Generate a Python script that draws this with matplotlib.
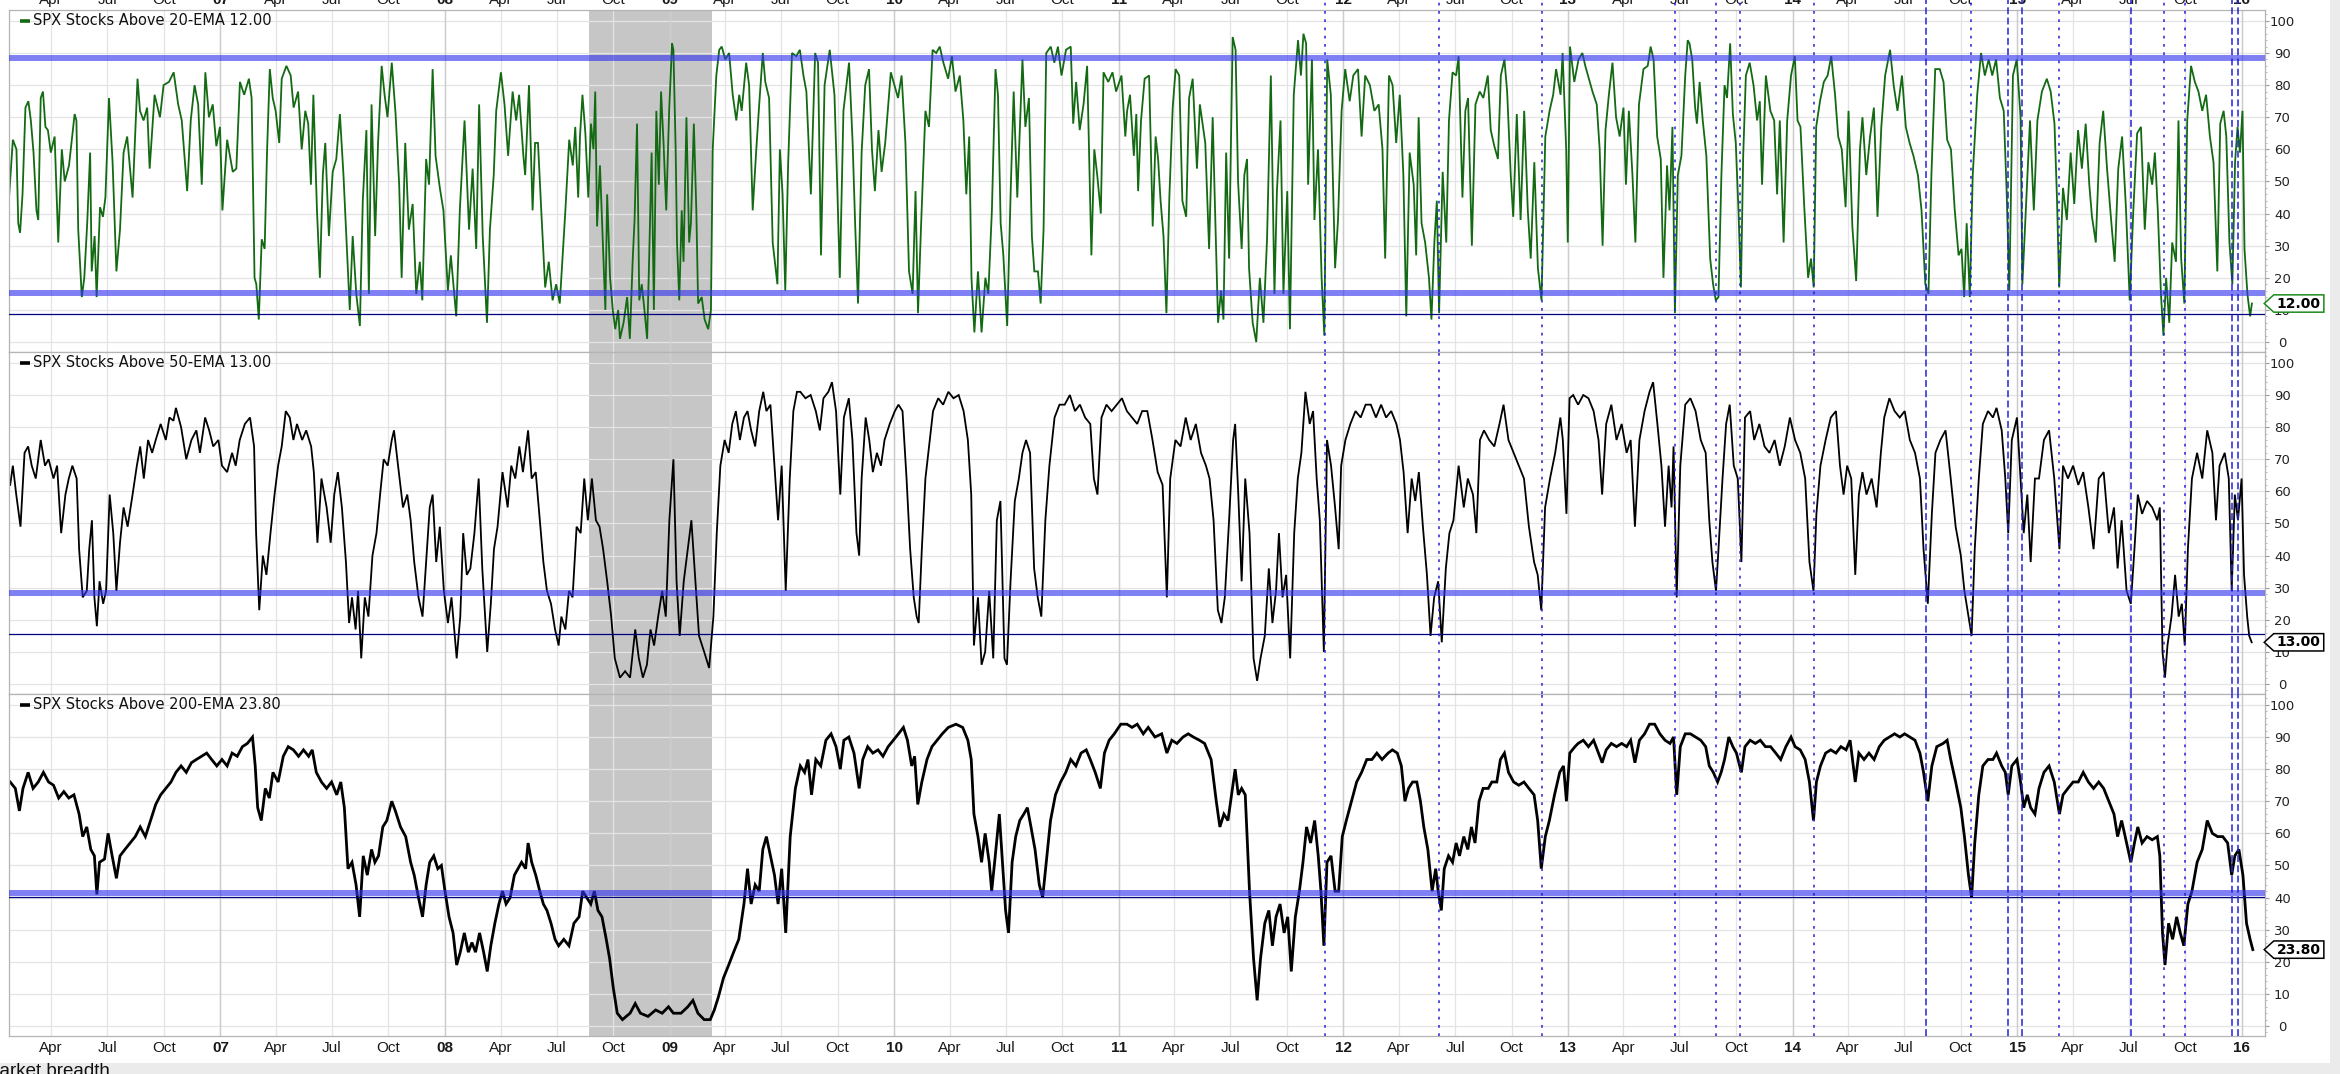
import datetime as dt
import matplotlib
matplotlib.use("Agg")
import matplotlib.pyplot as plt
from matplotlib.path import Path
from matplotlib.patches import Rectangle
from matplotlib.ticker import FixedLocator, MultipleLocator
import matplotlib.transforms as mtransforms

# ---------------- data (decimal year, percent) ----------------
series_names = ["SPX Stocks Above 20-EMA", "SPX Stocks Above 50-EMA", "SPX Stocks Above 200-EMA"]
last_values = [12.00, 13.00, 23.80]

ema20 = [
    (2006.055, 41), (2006.076, 63), (2006.092, 60), (2006.100, 37), (2006.108, 34), (2006.119, 46), (2006.132, 73),
    (2006.145, 75), (2006.156, 69), (2006.168, 59), (2006.181, 41), (2006.189, 38), (2006.200, 76), (2006.210, 78),
    (2006.221, 67), (2006.232, 66), (2006.245, 59), (2006.262, 64), (2006.278, 31), (2006.294, 60), (2006.307, 50),
    (2006.326, 55), (2006.351, 71), (2006.359, 69), (2006.367, 35), (2006.383, 14), (2006.394, 20), (2006.407, 37),
    (2006.420, 59), (2006.427, 22), (2006.440, 33), (2006.449, 14), (2006.464, 42), (2006.477, 39), (2006.488, 45),
    (2006.504, 76), (2006.520, 56), (2006.537, 22), (2006.553, 35), (2006.569, 59), (2006.585, 64), (2006.609, 45),
    (2006.631, 82), (2006.642, 72), (2006.658, 69), (2006.674, 73), (2006.685, 54), (2006.707, 77), (2006.731, 70),
    (2006.747, 80), (2006.771, 81), (2006.792, 84), (2006.812, 74), (2006.828, 69), (2006.852, 47), (2006.868, 69),
    (2006.885, 80), (2006.901, 74), (2006.917, 49), (2006.933, 84), (2006.949, 70), (2006.966, 74), (2006.982, 61),
    (2006.998, 67), (2007.009, 41), (2007.030, 63), (2007.055, 53), (2007.071, 54), (2007.087, 81), (2007.106, 77),
    (2007.127, 82), (2007.139, 76), (2007.152, 20), (2007.160, 18), (2007.171, 7), (2007.184, 32), (2007.197, 29),
    (2007.208, 60), (2007.220, 85), (2007.233, 76), (2007.246, 72), (2007.262, 62), (2007.273, 82), (2007.294, 86),
    (2007.313, 83), (2007.326, 73), (2007.346, 78), (2007.362, 60), (2007.378, 72), (2007.391, 68), (2007.403, 49),
    (2007.414, 77), (2007.430, 41), (2007.443, 20), (2007.456, 52), (2007.467, 62), (2007.483, 33), (2007.500, 53),
    (2007.516, 57), (2007.532, 71), (2007.548, 52), (2007.564, 28), (2007.576, 10), (2007.589, 33), (2007.605, 15),
    (2007.621, 5), (2007.634, 44), (2007.650, 66), (2007.661, 15), (2007.673, 74), (2007.689, 33), (2007.702, 62),
    (2007.718, 86), (2007.731, 77), (2007.744, 70), (2007.763, 87), (2007.780, 71), (2007.796, 49), (2007.807, 20),
    (2007.823, 62), (2007.839, 35), (2007.856, 43), (2007.872, 15), (2007.888, 25), (2007.899, 13), (2007.916, 57),
    (2007.929, 49), (2007.945, 85), (2007.958, 58), (2007.977, 48), (2007.993, 41), (2008.013, 16), (2008.026, 27),
    (2008.050, 8), (2008.066, 41), (2008.087, 69), (2008.107, 35), (2008.123, 54), (2008.139, 29), (2008.152, 74),
    (2008.168, 33), (2008.187, 6), (2008.200, 35), (2008.217, 52), (2008.228, 72), (2008.249, 84), (2008.265, 74),
    (2008.281, 58), (2008.301, 78), (2008.317, 69), (2008.330, 77), (2008.349, 58), (2008.357, 52), (2008.374, 80),
    (2008.390, 41), (2008.401, 62), (2008.414, 62), (2008.430, 39), (2008.446, 17), (2008.462, 25), (2008.479, 13),
    (2008.495, 18), (2008.511, 12), (2008.536, 41), (2008.553, 63), (2008.569, 55), (2008.580, 67), (2008.593, 45),
    (2008.601, 64), (2008.612, 77), (2008.625, 65), (2008.638, 45), (2008.650, 68), (2008.661, 60), (2008.669, 78),
    (2008.677, 36), (2008.690, 55), (2008.703, 31), (2008.714, 10), (2008.722, 46), (2008.735, 20), (2008.747, 10),
    (2008.758, 4), (2008.771, 10), (2008.779, 1), (2008.795, 6), (2008.811, 14), (2008.823, 1), (2008.836, 26),
    (2008.844, 38), (2008.855, 68), (2008.865, 13), (2008.876, 18), (2008.888, 10), (2008.900, 1), (2008.909, 26),
    (2008.920, 59), (2008.930, 10), (2008.941, 72), (2008.952, 49), (2008.962, 78), (2008.973, 62), (2008.985, 41),
    (2008.998, 72), (2009.011, 93), (2009.017, 91), (2009.027, 60), (2009.033, 31), (2009.043, 13), (2009.054, 41),
    (2009.062, 25), (2009.075, 70), (2009.087, 31), (2009.095, 37), (2009.108, 68), (2009.119, 41), (2009.127, 12),
    (2009.143, 14), (2009.156, 7), (2009.172, 4), (2009.184, 10), (2009.192, 60), (2009.208, 83), (2009.221, 91),
    (2009.232, 92), (2009.248, 88), (2009.265, 90), (2009.281, 77), (2009.297, 69), (2009.310, 77), (2009.321, 72),
    (2009.341, 87), (2009.354, 80), (2009.370, 41), (2009.386, 60), (2009.399, 74), (2009.415, 90), (2009.426, 81),
    (2009.443, 76), (2009.459, 31), (2009.480, 18), (2009.491, 60), (2009.503, 46), (2009.515, 16), (2009.528, 56),
    (2009.545, 90), (2009.564, 89), (2009.580, 91), (2009.596, 83), (2009.609, 78), (2009.629, 46), (2009.648, 90),
    (2009.661, 87), (2009.674, 27), (2009.690, 80), (2009.713, 91), (2009.734, 77), (2009.745, 52), (2009.758, 20),
    (2009.774, 72), (2009.799, 87), (2009.815, 62), (2009.826, 37), (2009.839, 12), (2009.855, 59), (2009.871, 80),
    (2009.888, 85), (2009.901, 60), (2009.914, 47), (2009.930, 66), (2009.944, 53), (2009.960, 62), (2009.985, 84),
    (2010.001, 80), (2010.017, 76), (2010.033, 83), (2010.050, 62), (2010.066, 22), (2010.082, 15), (2010.095, 47),
    (2010.106, 9), (2010.119, 35), (2010.139, 72), (2010.155, 67), (2010.171, 91), (2010.187, 90), (2010.203, 92),
    (2010.219, 87), (2010.240, 82), (2010.257, 89), (2010.273, 78), (2010.292, 83), (2010.308, 69), (2010.321, 46),
    (2010.334, 64), (2010.344, 20), (2010.357, 3), (2010.373, 22), (2010.389, 3), (2010.406, 20), (2010.419, 15),
    (2010.435, 41), (2010.451, 85), (2010.462, 77), (2010.474, 37), (2010.486, 27), (2010.503, 5), (2010.519, 48),
    (2010.532, 78), (2010.548, 45), (2010.559, 66), (2010.571, 88), (2010.584, 67), (2010.600, 76), (2010.613, 33),
    (2010.624, 22), (2010.640, 22), (2010.652, 12), (2010.665, 35), (2010.677, 90), (2010.697, 92), (2010.713, 87),
    (2010.729, 92), (2010.745, 83), (2010.765, 91), (2010.786, 92), (2010.797, 68), (2010.810, 81), (2010.826, 66),
    (2010.843, 74), (2010.859, 86), (2010.878, 27), (2010.891, 60), (2010.904, 52), (2010.920, 40), (2010.932, 84),
    (2010.953, 81), (2010.972, 84), (2010.988, 78), (2011.012, 83), (2011.029, 64), (2011.037, 72), (2011.050, 77),
    (2011.067, 58), (2011.078, 71), (2011.086, 47), (2011.099, 69), (2011.115, 82), (2011.135, 83), (2011.151, 36),
    (2011.164, 64), (2011.175, 57), (2011.186, 44), (2011.199, 33), (2011.212, 9), (2011.225, 45), (2011.240, 73),
    (2011.253, 85), (2011.269, 83), (2011.283, 44), (2011.300, 39), (2011.313, 76), (2011.329, 82), (2011.348, 54),
    (2011.361, 74), (2011.385, 62), (2011.402, 29), (2011.418, 70), (2011.429, 40), (2011.442, 6), (2011.455, 16),
    (2011.466, 7), (2011.478, 59), (2011.491, 26), (2011.507, 95), (2011.520, 91), (2011.531, 50), (2011.547, 29),
    (2011.559, 52), (2011.571, 57), (2011.580, 23), (2011.596, 6), (2011.612, 0), (2011.628, 20), (2011.644, 6),
    (2011.660, 32), (2011.677, 83), (2011.693, 15), (2011.704, 47), (2011.720, 69), (2011.733, 15), (2011.750, 47),
    (2011.762, 4), (2011.779, 77), (2011.798, 94), (2011.811, 83), (2011.822, 96), (2011.834, 93), (2011.843, 49),
    (2011.860, 88), (2011.871, 38), (2011.887, 60), (2011.903, 20), (2011.915, 2), (2011.928, 88), (2011.944, 77),
    (2011.963, 23), (2011.976, 38), (2011.992, 72), (2012.008, 85), (2012.028, 75), (2012.044, 83), (2012.065, 85),
    (2012.081, 64), (2012.097, 83), (2012.118, 80), (2012.138, 72), (2012.157, 74), (2012.174, 60), (2012.186, 26),
    (2012.203, 83), (2012.219, 80), (2012.235, 62), (2012.251, 77), (2012.267, 52), (2012.280, 8), (2012.295, 59),
    (2012.313, 49), (2012.324, 27), (2012.335, 70), (2012.348, 37), (2012.364, 31), (2012.381, 20), (2012.392, 7),
    (2012.405, 31), (2012.416, 44), (2012.426, 9), (2012.442, 53), (2012.458, 31), (2012.470, 69), (2012.486, 84),
    (2012.502, 83), (2012.513, 89), (2012.530, 45), (2012.543, 72), (2012.555, 76), (2012.572, 30), (2012.588, 74),
    (2012.607, 78), (2012.623, 76), (2012.643, 83), (2012.656, 66), (2012.672, 61), (2012.688, 57), (2012.701, 83),
    (2012.717, 88), (2012.729, 78), (2012.745, 52), (2012.756, 39), (2012.772, 71), (2012.789, 38), (2012.805, 72),
    (2012.821, 41), (2012.834, 26), (2012.850, 56), (2012.866, 23), (2012.882, 13), (2012.899, 64), (2012.918, 72),
    (2012.934, 77), (2012.947, 85), (2012.967, 77), (2012.976, 90), (2012.992, 60), (2012.999, 31), (2013.009, 92),
    (2013.028, 81), (2013.047, 88), (2013.064, 90), (2013.077, 86), (2013.093, 82), (2013.109, 78), (2013.128, 74),
    (2013.141, 60), (2013.154, 30), (2013.167, 66), (2013.182, 77), (2013.198, 87), (2013.214, 70), (2013.230, 64),
    (2013.247, 73), (2013.258, 49), (2013.271, 72), (2013.287, 52), (2013.300, 31), (2013.316, 74), (2013.336, 85),
    (2013.355, 86), (2013.368, 92), (2013.381, 88), (2013.397, 64), (2013.413, 57), (2013.425, 20), (2013.441, 55),
    (2013.452, 41), (2013.465, 67), (2013.476, 9), (2013.489, 52), (2013.505, 58), (2013.522, 83), (2013.533, 94),
    (2013.541, 93), (2013.553, 88), (2013.566, 73), (2013.574, 68), (2013.586, 81), (2013.600, 69), (2013.616, 58),
    (2013.633, 26), (2013.646, 18), (2013.658, 13), (2013.670, 14), (2013.683, 52), (2013.697, 80), (2013.708, 76),
    (2013.722, 93), (2013.734, 71), (2013.747, 62), (2013.759, 41), (2013.770, 17), (2013.780, 58), (2013.792, 83),
    (2013.809, 87), (2013.826, 80), (2013.842, 69), (2013.854, 75), (2013.864, 49), (2013.881, 83), (2013.901, 72),
    (2013.918, 69), (2013.931, 46), (2013.943, 69), (2013.960, 31), (2013.976, 69), (2013.993, 83), (2014.010, 89),
    (2014.022, 69), (2014.035, 67), (2014.052, 42), (2014.069, 20), (2014.082, 26), (2014.094, 17), (2014.105, 67),
    (2014.122, 75), (2014.139, 81), (2014.156, 83), (2014.172, 89), (2014.189, 77), (2014.203, 64), (2014.219, 60),
    (2014.236, 42), (2014.249, 72), (2014.266, 36), (2014.283, 19), (2014.300, 60), (2014.311, 70), (2014.328, 52),
    (2014.345, 64), (2014.362, 73), (2014.378, 39), (2014.395, 67), (2014.412, 83), (2014.434, 91), (2014.450, 80),
    (2014.467, 72), (2014.487, 83), (2014.504, 67), (2014.521, 62), (2014.538, 58), (2014.558, 52), (2014.574, 41),
    (2014.591, 18), (2014.605, 15), (2014.618, 52), (2014.635, 85), (2014.655, 85), (2014.672, 81), (2014.688, 63),
    (2014.705, 60), (2014.722, 41), (2014.739, 27), (2014.752, 29), (2014.764, 14), (2014.775, 37), (2014.789, 14),
    (2014.802, 52), (2014.822, 77), (2014.839, 90), (2014.856, 83), (2014.873, 88), (2014.889, 83), (2014.906, 88),
    (2014.923, 76), (2014.940, 72), (2014.953, 47), (2014.965, 16), (2014.981, 83), (2014.998, 88), (2015.015, 70),
    (2015.023, 18), (2015.037, 39), (2015.057, 69), (2015.074, 41), (2015.090, 69), (2015.110, 78), (2015.132, 82),
    (2015.149, 78), (2015.166, 68), (2015.177, 45), (2015.187, 17), (2015.204, 48), (2015.221, 38), (2015.238, 59),
    (2015.254, 43), (2015.271, 66), (2015.288, 54), (2015.305, 68), (2015.321, 49), (2015.333, 39), (2015.350, 31),
    (2015.367, 62), (2015.383, 72), (2015.400, 54), (2015.417, 39), (2015.434, 25), (2015.450, 54), (2015.467, 64),
    (2015.484, 42), (2015.501, 13), (2015.517, 41), (2015.534, 65), (2015.551, 67), (2015.568, 35), (2015.584, 56),
    (2015.601, 49), (2015.613, 59), (2015.626, 41), (2015.640, 15), (2015.651, 2), (2015.663, 20), (2015.677, 6),
    (2015.690, 31), (2015.707, 25), (2015.718, 69), (2015.730, 26), (2015.744, 12), (2015.757, 69), (2015.774, 86),
    (2015.791, 81), (2015.807, 78), (2015.824, 72), (2015.841, 77), (2015.858, 64), (2015.874, 56), (2015.891, 22),
    (2015.904, 68), (2015.919, 72), (2015.931, 64), (2015.945, 31), (2015.958, 18), (2015.970, 56), (2015.981, 67),
    (2015.992, 59), (2016.003, 72), (2016.012, 29), (2016.025, 15), (2016.037, 8), (2016.045, 12),
]

ema50 = [
    (2006.064, 62), (2006.076, 68), (2006.091, 59), (2006.110, 49), (2006.128, 72), (2006.144, 74), (2006.160, 68),
    (2006.178, 64), (2006.200, 76), (2006.219, 68), (2006.235, 70), (2006.257, 64), (2006.273, 68), (2006.291, 47),
    (2006.310, 59), (2006.325, 64), (2006.341, 68), (2006.360, 64), (2006.371, 42), (2006.387, 27), (2006.405, 29),
    (2006.416, 42), (2006.428, 51), (2006.439, 27), (2006.450, 18), (2006.462, 32), (2006.478, 25), (2006.491, 29),
    (2006.507, 59), (2006.523, 47), (2006.537, 29), (2006.553, 44), (2006.569, 55), (2006.587, 49), (2006.609, 59),
    (2006.628, 68), (2006.643, 74), (2006.659, 64), (2006.678, 76), (2006.696, 72), (2006.712, 76), (2006.734, 81),
    (2006.757, 76), (2006.773, 83), (2006.791, 82), (2006.802, 86), (2006.825, 80), (2006.848, 70), (2006.871, 76),
    (2006.893, 79), (2006.909, 72), (2006.932, 83), (2006.950, 79), (2006.968, 74), (2006.991, 76), (2007.007, 68),
    (2007.030, 66), (2007.052, 72), (2007.068, 68), (2007.086, 76), (2007.109, 81), (2007.132, 83), (2007.150, 74),
    (2007.159, 47), (2007.173, 23), (2007.189, 40), (2007.205, 34), (2007.223, 47), (2007.241, 59), (2007.257, 68),
    (2007.273, 74), (2007.291, 85), (2007.309, 83), (2007.325, 76), (2007.341, 81), (2007.364, 76), (2007.382, 79),
    (2007.404, 74), (2007.416, 66), (2007.432, 44), (2007.450, 64), (2007.473, 55), (2007.491, 44), (2007.507, 59),
    (2007.523, 66), (2007.541, 55), (2007.559, 38), (2007.573, 19), (2007.586, 27), (2007.602, 17), (2007.613, 29),
    (2007.627, 8), (2007.643, 27), (2007.659, 21), (2007.677, 40), (2007.695, 47), (2007.711, 59), (2007.727, 70),
    (2007.745, 68), (2007.763, 76), (2007.773, 79), (2007.791, 68), (2007.813, 55), (2007.832, 59), (2007.847, 51),
    (2007.863, 38), (2007.882, 27), (2007.900, 21), (2007.916, 38), (2007.932, 55), (2007.945, 59), (2007.961, 38),
    (2007.977, 49), (2007.995, 29), (2008.013, 19), (2008.029, 27), (2008.052, 8), (2008.068, 21), (2008.081, 47),
    (2008.097, 34), (2008.113, 36), (2008.131, 47), (2008.150, 64), (2008.166, 36), (2008.188, 10), (2008.204, 25),
    (2008.218, 42), (2008.234, 49), (2008.256, 66), (2008.279, 55), (2008.295, 68), (2008.313, 64), (2008.331, 74),
    (2008.347, 66), (2008.370, 79), (2008.386, 64), (2008.404, 66), (2008.422, 51), (2008.438, 38), (2008.454, 29),
    (2008.472, 25), (2008.490, 17), (2008.506, 12), (2008.518, 21), (2008.536, 17), (2008.552, 29), (2008.568, 27),
    (2008.586, 49), (2008.604, 47), (2008.620, 64), (2008.636, 51), (2008.654, 64), (2008.672, 51), (2008.688, 49),
    (2008.704, 42), (2008.722, 32), (2008.740, 21), (2008.756, 8), (2008.779, 2), (2008.802, 4), (2008.824, 2),
    (2008.847, 17), (2008.863, 8), (2008.881, 2), (2008.899, 6), (2008.915, 17), (2008.931, 12), (2008.949, 21),
    (2008.967, 29), (2008.983, 21), (2008.999, 51), (2009.017, 70), (2009.031, 32), (2009.045, 15), (2009.063, 32),
    (2009.081, 42), (2009.097, 51), (2009.113, 34), (2009.131, 15), (2009.154, 10), (2009.176, 5), (2009.195, 21),
    (2009.210, 47), (2009.226, 68), (2009.245, 76), (2009.263, 72), (2009.279, 81), (2009.295, 85), (2009.313, 76),
    (2009.331, 83), (2009.347, 85), (2009.363, 79), (2009.381, 74), (2009.399, 85), (2009.417, 91), (2009.431, 85),
    (2009.449, 87), (2009.467, 68), (2009.483, 51), (2009.499, 68), (2009.517, 29), (2009.535, 64), (2009.551, 85),
    (2009.567, 91), (2009.582, 91), (2009.605, 89), (2009.628, 90), (2009.651, 85), (2009.669, 79), (2009.685, 89),
    (2009.707, 91), (2009.723, 94), (2009.741, 85), (2009.760, 59), (2009.776, 83), (2009.798, 89), (2009.814, 76),
    (2009.832, 47), (2009.844, 40), (2009.855, 64), (2009.873, 83), (2009.889, 76), (2009.905, 66), (2009.923, 72),
    (2009.941, 68), (2009.957, 76), (2009.980, 81), (2010.003, 85), (2010.019, 87), (2010.037, 85), (2010.055, 64),
    (2010.071, 42), (2010.087, 27), (2010.100, 21), (2010.109, 19), (2010.123, 42), (2010.139, 64), (2010.155, 74),
    (2010.173, 85), (2010.196, 89), (2010.218, 87), (2010.241, 91), (2010.264, 89), (2010.287, 90), (2010.309, 85),
    (2010.328, 76), (2010.343, 59), (2010.355, 12), (2010.373, 27), (2010.389, 6), (2010.405, 10), (2010.423, 29),
    (2010.441, 8), (2010.457, 51), (2010.473, 57), (2010.491, 8), (2010.502, 6), (2010.518, 32), (2010.537, 57),
    (2010.555, 64), (2010.571, 72), (2010.587, 76), (2010.605, 72), (2010.623, 36), (2010.639, 27), (2010.655, 21),
    (2010.673, 51), (2010.691, 68), (2010.714, 83), (2010.736, 87), (2010.759, 87), (2010.782, 90), (2010.805, 85),
    (2010.827, 87), (2010.850, 83), (2010.873, 81), (2010.889, 64), (2010.905, 59), (2010.923, 83), (2010.945, 87),
    (2010.968, 85), (2010.991, 87), (2011.014, 89), (2011.036, 85), (2011.059, 83), (2011.082, 81), (2011.104, 85),
    (2011.127, 85), (2011.150, 76), (2011.173, 66), (2011.195, 62), (2011.214, 27), (2011.229, 64), (2011.252, 76),
    (2011.275, 74), (2011.298, 83), (2011.320, 76), (2011.343, 81), (2011.366, 72), (2011.388, 68), (2011.404, 64),
    (2011.422, 51), (2011.441, 23), (2011.457, 19), (2011.472, 27), (2011.491, 51), (2011.509, 76), (2011.518, 81),
    (2011.532, 59), (2011.547, 32), (2011.563, 64), (2011.582, 47), (2011.600, 8), (2011.616, 1), (2011.631, 8),
    (2011.650, 15), (2011.668, 36), (2011.684, 19), (2011.700, 29), (2011.713, 47), (2011.729, 27), (2011.745, 34),
    (2011.763, 8), (2011.781, 47), (2011.797, 64), (2011.813, 72), (2011.831, 91), (2011.850, 81), (2011.865, 85),
    (2011.881, 64), (2011.895, 51), (2011.913, 10), (2011.927, 76), (2011.945, 68), (2011.963, 55), (2011.979, 42),
    (2011.990, 68), (2012.009, 76), (2012.031, 81), (2012.054, 85), (2012.077, 83), (2012.099, 87), (2012.122, 87),
    (2012.145, 83), (2012.168, 87), (2012.190, 83), (2012.213, 85), (2012.236, 81), (2012.252, 76), (2012.268, 66),
    (2012.286, 47), (2012.304, 64), (2012.320, 57), (2012.336, 66), (2012.354, 49), (2012.372, 34), (2012.388, 15),
    (2012.404, 27), (2012.422, 32), (2012.438, 13), (2012.456, 36), (2012.472, 47), (2012.490, 51), (2012.513, 68),
    (2012.536, 55), (2012.554, 64), (2012.577, 59), (2012.592, 47), (2012.608, 76), (2012.626, 79), (2012.649, 76),
    (2012.672, 74), (2012.695, 81), (2012.713, 87), (2012.735, 76), (2012.758, 72), (2012.781, 68), (2012.804, 64),
    (2012.826, 49), (2012.849, 38), (2012.865, 34), (2012.881, 23), (2012.898, 55), (2012.920, 64), (2012.943, 72),
    (2012.966, 83), (2012.977, 76), (2012.993, 53), (2013.007, 89), (2013.023, 90), (2013.045, 87), (2013.068, 90),
    (2013.091, 89), (2013.114, 85), (2013.136, 76), (2013.152, 59), (2013.170, 81), (2013.193, 87), (2013.216, 76),
    (2013.239, 81), (2013.261, 72), (2013.279, 76), (2013.298, 49), (2013.318, 76), (2013.341, 85), (2013.363, 91),
    (2013.379, 94), (2013.398, 81), (2013.416, 68), (2013.432, 49), (2013.448, 68), (2013.461, 55), (2013.470, 74),
    (2013.484, 27), (2013.500, 68), (2013.522, 87), (2013.545, 89), (2013.568, 85), (2013.591, 76), (2013.613, 72),
    (2013.629, 51), (2013.643, 38), (2013.659, 29), (2013.670, 42), (2013.688, 64), (2013.704, 81), (2013.720, 87),
    (2013.738, 68), (2013.756, 64), (2013.772, 38), (2013.788, 83), (2013.811, 85), (2013.829, 76), (2013.852, 81),
    (2013.875, 74), (2013.897, 72), (2013.920, 76), (2013.943, 68), (2013.965, 74), (2013.988, 83), (2014.011, 76),
    (2014.034, 72), (2014.056, 64), (2014.075, 38), (2014.093, 29), (2014.106, 53), (2014.124, 68), (2014.147, 76),
    (2014.170, 83), (2014.193, 85), (2014.211, 68), (2014.227, 59), (2014.243, 68), (2014.261, 64), (2014.279, 34),
    (2014.295, 59), (2014.311, 66), (2014.329, 59), (2014.352, 64), (2014.374, 55), (2014.393, 72), (2014.408, 83),
    (2014.431, 89), (2014.454, 85), (2014.477, 83), (2014.499, 85), (2014.522, 76), (2014.545, 72), (2014.567, 64),
    (2014.583, 42), (2014.602, 25), (2014.620, 53), (2014.636, 72), (2014.658, 76), (2014.681, 79), (2014.704, 64),
    (2014.726, 49), (2014.749, 40), (2014.765, 29), (2014.783, 21), (2014.797, 15), (2014.811, 42), (2014.829, 64),
    (2014.847, 81), (2014.870, 85), (2014.892, 83), (2014.908, 86), (2014.931, 79), (2014.947, 64), (2014.960, 47),
    (2014.976, 76), (2014.999, 83), (2015.015, 64), (2015.029, 47), (2015.045, 59), (2015.060, 38), (2015.079, 64),
    (2015.097, 64), (2015.119, 76), (2015.142, 79), (2015.165, 64), (2015.188, 42), (2015.204, 68), (2015.226, 64),
    (2015.249, 68), (2015.272, 62), (2015.294, 66), (2015.317, 55), (2015.340, 42), (2015.363, 64), (2015.385, 66),
    (2015.408, 47), (2015.431, 55), (2015.447, 36), (2015.465, 51), (2015.487, 29), (2015.506, 25), (2015.522, 42),
    (2015.537, 59), (2015.556, 53), (2015.578, 57), (2015.601, 55), (2015.624, 51), (2015.635, 55), (2015.647, 10),
    (2015.658, 2), (2015.669, 12), (2015.687, 21), (2015.703, 34), (2015.719, 21), (2015.733, 25), (2015.746, 12),
    (2015.760, 42), (2015.778, 64), (2015.801, 72), (2015.824, 64), (2015.846, 79), (2015.869, 72), (2015.885, 51),
    (2015.901, 68), (2015.924, 72), (2015.942, 64), (2015.955, 29), (2015.969, 59), (2015.983, 51), (2015.999, 64),
    (2016.010, 34), (2016.024, 21), (2016.033, 15), (2016.044, 13),
]

ema200 = [
    (2006.064, 76), (2006.087, 74), (2006.105, 67), (2006.121, 74), (2006.144, 79), (2006.166, 74), (2006.189, 76),
    (2006.212, 79), (2006.235, 76), (2006.257, 75), (2006.280, 71), (2006.303, 73), (2006.325, 71), (2006.348, 72),
    (2006.371, 66), (2006.387, 59), (2006.405, 62), (2006.423, 55), (2006.439, 53), (2006.450, 41), (2006.462, 51),
    (2006.484, 52), (2006.500, 60), (2006.518, 53), (2006.537, 46), (2006.553, 53), (2006.575, 55), (2006.598, 57),
    (2006.621, 59), (2006.643, 62), (2006.666, 59), (2006.689, 64), (2006.712, 69), (2006.734, 72), (2006.757, 74),
    (2006.780, 76), (2006.802, 79), (2006.825, 81), (2006.848, 79), (2006.871, 82), (2006.893, 83), (2006.916, 84),
    (2006.939, 85), (2006.961, 83), (2006.984, 81), (2007.007, 83), (2007.030, 81), (2007.052, 85), (2007.075, 84),
    (2007.098, 87), (2007.120, 88), (2007.143, 90), (2007.155, 81), (2007.166, 68), (2007.182, 64), (2007.200, 74),
    (2007.218, 71), (2007.234, 79), (2007.257, 76), (2007.280, 84), (2007.302, 87), (2007.325, 86), (2007.348, 84),
    (2007.370, 86), (2007.393, 84), (2007.409, 86), (2007.427, 79), (2007.450, 76), (2007.473, 74), (2007.495, 76),
    (2007.518, 72), (2007.536, 76), (2007.552, 68), (2007.568, 49), (2007.586, 51), (2007.604, 44), (2007.620, 34),
    (2007.636, 53), (2007.654, 47), (2007.673, 55), (2007.688, 51), (2007.704, 53), (2007.723, 62), (2007.741, 64),
    (2007.763, 70), (2007.779, 67), (2007.802, 62), (2007.825, 59), (2007.847, 51), (2007.863, 47), (2007.882, 40),
    (2007.900, 34), (2007.916, 44), (2007.932, 51), (2007.950, 53), (2007.968, 49), (2007.984, 50), (2008.000, 42),
    (2008.018, 34), (2008.036, 29), (2008.052, 19), (2008.068, 23), (2008.086, 29), (2008.104, 23), (2008.120, 26),
    (2008.136, 23), (2008.154, 29), (2008.172, 23), (2008.188, 17), (2008.204, 25), (2008.222, 32), (2008.240, 38),
    (2008.256, 42), (2008.272, 38), (2008.290, 40), (2008.309, 47), (2008.325, 49), (2008.341, 51), (2008.359, 49),
    (2008.370, 57), (2008.386, 51), (2008.404, 47), (2008.422, 42), (2008.438, 38), (2008.454, 36), (2008.472, 32),
    (2008.490, 27), (2008.506, 25), (2008.529, 27), (2008.552, 25), (2008.574, 32), (2008.597, 34), (2008.613, 42),
    (2008.631, 40), (2008.649, 38), (2008.665, 42), (2008.681, 36), (2008.699, 34), (2008.718, 27), (2008.733, 21),
    (2008.749, 12), (2008.767, 4), (2008.790, 2), (2008.824, 4), (2008.847, 7), (2008.870, 4), (2008.904, 3),
    (2008.938, 5), (2008.967, 4), (2008.995, 6), (2009.017, 4), (2009.051, 4), (2009.081, 6), (2009.104, 8),
    (2009.126, 4), (2009.154, 2), (2009.181, 2), (2009.199, 5), (2009.217, 9), (2009.240, 15), (2009.263, 19),
    (2009.285, 23), (2009.308, 27), (2009.331, 38), (2009.347, 49), (2009.363, 38), (2009.381, 44), (2009.399, 42),
    (2009.415, 55), (2009.431, 59), (2009.449, 53), (2009.467, 47), (2009.483, 38), (2009.499, 49), (2009.517, 29),
    (2009.537, 59), (2009.560, 74), (2009.582, 81), (2009.601, 79), (2009.616, 83), (2009.632, 72), (2009.651, 83),
    (2009.673, 81), (2009.696, 89), (2009.719, 91), (2009.741, 87), (2009.760, 80), (2009.776, 89), (2009.798, 90),
    (2009.821, 85), (2009.844, 74), (2009.860, 83), (2009.882, 87), (2009.905, 85), (2009.928, 86), (2009.950, 84),
    (2009.973, 87), (2009.996, 89), (2010.019, 91), (2010.041, 93), (2010.059, 89), (2010.078, 81), (2010.091, 84),
    (2010.105, 69), (2010.123, 76), (2010.146, 83), (2010.168, 87), (2010.191, 89), (2010.214, 91), (2010.241, 93),
    (2010.275, 94), (2010.305, 93), (2010.328, 89), (2010.343, 83), (2010.355, 66), (2010.373, 59), (2010.389, 51),
    (2010.405, 60), (2010.423, 51), (2010.434, 42), (2010.450, 53), (2010.468, 66), (2010.482, 51), (2010.496, 36),
    (2010.509, 29), (2010.525, 51), (2010.541, 59), (2010.559, 64), (2010.577, 66), (2010.593, 68), (2010.609, 62),
    (2010.627, 55), (2010.646, 44), (2010.661, 40), (2010.677, 51), (2010.696, 64), (2010.718, 72), (2010.741, 76),
    (2010.764, 79), (2010.786, 83), (2010.809, 81), (2010.832, 85), (2010.855, 86), (2010.873, 83), (2010.895, 79),
    (2010.918, 74), (2010.936, 85), (2010.957, 89), (2010.980, 91), (2011.009, 94), (2011.036, 94), (2011.059, 93),
    (2011.082, 94), (2011.109, 91), (2011.131, 93), (2011.161, 90), (2011.191, 91), (2011.214, 85), (2011.236, 89),
    (2011.259, 88), (2011.286, 90), (2011.309, 91), (2011.332, 90), (2011.359, 89), (2011.382, 88), (2011.411, 83),
    (2011.434, 70), (2011.450, 62), (2011.468, 66), (2011.486, 64), (2011.502, 72), (2011.518, 80), (2011.532, 72),
    (2011.547, 74), (2011.563, 72), (2011.582, 42), (2011.600, 21), (2011.616, 8), (2011.631, 21), (2011.650, 32),
    (2011.668, 36), (2011.684, 25), (2011.700, 34), (2011.718, 38), (2011.736, 29), (2011.752, 34), (2011.768, 17),
    (2011.786, 34), (2011.804, 42), (2011.820, 51), (2011.836, 62), (2011.854, 57), (2011.872, 64), (2011.888, 53),
    (2011.900, 42), (2011.913, 25), (2011.927, 51), (2011.945, 53), (2011.963, 42), (2011.979, 42), (2011.995, 59),
    (2012.013, 64), (2012.036, 70), (2012.059, 76), (2012.081, 79), (2012.104, 83), (2012.127, 83), (2012.149, 85),
    (2012.172, 83), (2012.199, 85), (2012.218, 86), (2012.240, 85), (2012.258, 81), (2012.274, 70), (2012.290, 74),
    (2012.308, 76), (2012.327, 76), (2012.343, 70), (2012.358, 62), (2012.376, 55), (2012.395, 42), (2012.411, 49),
    (2012.422, 42), (2012.436, 36), (2012.449, 49), (2012.468, 53), (2012.486, 51), (2012.502, 57), (2012.517, 53),
    (2012.536, 59), (2012.554, 55), (2012.570, 62), (2012.586, 57), (2012.604, 70), (2012.622, 74), (2012.645, 74),
    (2012.661, 76), (2012.683, 76), (2012.699, 83), (2012.717, 85), (2012.735, 79), (2012.758, 76), (2012.781, 75),
    (2012.804, 76), (2012.826, 74), (2012.849, 72), (2012.865, 64), (2012.881, 49), (2012.899, 59), (2012.917, 64),
    (2012.940, 72), (2012.963, 79), (2012.980, 81), (2012.993, 70), (2013.008, 85), (2013.031, 87), (2013.045, 88),
    (2013.068, 89), (2013.091, 87), (2013.114, 89), (2013.136, 85), (2013.152, 82), (2013.170, 86), (2013.193, 88),
    (2013.216, 87), (2013.239, 88), (2013.261, 87), (2013.279, 89), (2013.298, 82), (2013.318, 89), (2013.341, 91),
    (2013.363, 94), (2013.386, 94), (2013.409, 91), (2013.432, 89), (2013.454, 88), (2013.470, 90), (2013.484, 72),
    (2013.500, 87), (2013.522, 91), (2013.545, 91), (2013.568, 90), (2013.591, 89), (2013.613, 87), (2013.629, 81),
    (2013.647, 79), (2013.666, 76), (2013.682, 79), (2013.697, 83), (2013.716, 90), (2013.734, 87), (2013.750, 85),
    (2013.772, 79), (2013.788, 87), (2013.811, 89), (2013.834, 88), (2013.856, 89), (2013.879, 87), (2013.902, 87),
    (2013.925, 85), (2013.947, 83), (2013.970, 87), (2013.993, 90), (2014.011, 87), (2014.034, 86), (2014.056, 83),
    (2014.075, 76), (2014.093, 64), (2014.106, 76), (2014.124, 81), (2014.147, 85), (2014.170, 86), (2014.193, 85),
    (2014.215, 87), (2014.238, 86), (2014.256, 89), (2014.279, 76), (2014.295, 85), (2014.318, 83), (2014.340, 85),
    (2014.363, 83), (2014.386, 87), (2014.408, 89), (2014.431, 90), (2014.454, 91), (2014.477, 90), (2014.499, 91),
    (2014.522, 90), (2014.545, 89), (2014.567, 85), (2014.583, 79), (2014.602, 70), (2014.620, 81), (2014.642, 87),
    (2014.670, 88), (2014.688, 89), (2014.704, 83), (2014.726, 76), (2014.749, 68), (2014.765, 59), (2014.783, 47),
    (2014.797, 40), (2014.811, 57), (2014.829, 72), (2014.847, 81), (2014.870, 83), (2014.892, 83), (2014.908, 85),
    (2014.931, 81), (2014.947, 79), (2014.960, 72), (2014.976, 81), (2014.999, 83), (2015.015, 76), (2015.029, 68),
    (2015.045, 72), (2015.060, 68), (2015.079, 66), (2015.097, 74), (2015.119, 79), (2015.142, 81), (2015.165, 76),
    (2015.188, 66), (2015.204, 72), (2015.226, 74), (2015.249, 76), (2015.272, 76), (2015.294, 79), (2015.317, 76),
    (2015.340, 74), (2015.363, 76), (2015.385, 74), (2015.408, 70), (2015.431, 66), (2015.447, 59), (2015.465, 64),
    (2015.487, 57), (2015.506, 51), (2015.522, 57), (2015.537, 62), (2015.556, 57), (2015.578, 59), (2015.601, 58),
    (2015.624, 59), (2015.635, 53), (2015.647, 29), (2015.658, 19), (2015.674, 32), (2015.692, 27), (2015.710, 34),
    (2015.726, 29), (2015.742, 25), (2015.760, 38), (2015.778, 42), (2015.801, 51), (2015.824, 55), (2015.846, 64),
    (2015.869, 60), (2015.892, 59), (2015.915, 59), (2015.937, 57), (2015.955, 47), (2015.969, 53), (2015.987, 55),
    (2016.005, 47), (2016.021, 32), (2016.037, 27), (2016.049, 23.8),
]

thick_levels = [[88.5, 15.4], [28.2], [41.4]]
thin_levels = [[8.8], [15.5], [40.1]]
crash_span = (2008.643, 2009.190)
dotted_events = [2011.916, 2012.424, 2012.884, 2013.477, 2013.657, 2013.768, 2014.094,
                 2014.794, 2015.186, 2015.652, 2015.747]
dashed_events = [2014.596, 2014.960, 2015.020, 2015.508, 2015.955, 2015.981]
x_range = (2006.0588, 2016.1033)
y_range = (-3.1, 103.4)
y_ticks = list(range(0, 101, 10))
month_names = {4: "Apr", 7: "Jul", 10: "Oct"}
first_tick_year, last_tick_year = 2006, 2016


def decimal_year(y, m, d=1):
    start = dt.date(y, 1, 1)
    span = (dt.date(y + 1, 1, 1) - start).days
    return y + (dt.date(y, m, d) - start).days / span


def tag_box(x0, y0, width, height, mutation_size):
    px = 0.22 * mutation_size
    py = 0.12 * mutation_size
    l, r = x0 - px, x0 + width + px
    b, t = y0 - py, y0 + height + py
    tip = (t - b) * 0.55
    verts = [(l, b), (r, b), (r, t), (l, t), (l - tip, (b + t) / 2), (l, b)]
    codes = [Path.MOVETO, Path.LINETO, Path.LINETO, Path.LINETO, Path.LINETO, Path.CLOSEPOLY]
    return Path(verts, codes)


# tick positions / labels
tick_pos, tick_lab, tick_bold = [], [], []
for yr in range(first_tick_year, last_tick_year + 1):
    for m in (1, 4, 7, 10):
        p = decimal_year(yr, m)
        if x_range[0] < p < x_range[1]:
            tick_pos.append(p)
            tick_lab.append(f"{yr % 100:02d}" if m == 1 else month_names[m])
            tick_bold.append(m == 1)
year_pos = [decimal_year(yr, 1) for yr in range(2007, 2017)]

# ---------------- figure ----------------
W, H = 2340, 1074
fig = plt.figure(figsize=(W / 100, H / 100), dpi=100)
fig.patch.set_facecolor("white")
fig.patches.append(Rectangle((0, 0), 1, 11 / H, transform=fig.transFigure,
                             facecolor="#ebebeb", edgecolor="none", zorder=-5))
fig.patches.append(Rectangle((2330 / W, 0), 1, 1, transform=fig.transFigure,
                             facecolor="#ebebeb", edgecolor="none", zorder=-5))

left_px, right_px = 9, 2265
panel_tops = [10, 352, 694]
panel_h = 342
series = [ema20, ema50, ema200]
colors = ["#136a13", "#000000", "#000000"]
widths = [1.3, 1.3, 2.0]
box_edges = ["#1d8a1d", "#000000", "#000000"]
xlabel_font = ["Liberation Sans Narrow", "Liberation Sans", "DejaVu Sans"]

for i, top in enumerate(panel_tops):
    ax = fig.add_axes([left_px / W, 1 - (top + panel_h) / H, (right_px - left_px) / W, panel_h / H])
    ax.set_xlim(*x_range)
    ax.set_ylim(*y_range)
    ax.set_facecolor("white")

    # grid
    ax.set_axisbelow(True)
    ax.set_yticks(y_ticks)
    ax.yaxis.set_minor_locator(MultipleLocator(2))
    ax.xaxis.set_major_locator(FixedLocator(tick_pos))
    ax.set_xticklabels(tick_lab)
    ax.grid(True, which="major", color="#e4e4e4", lw=0.9)
    for yp in year_pos:
        ax.axvline(yp, color="#cdcdcd", lw=1.0, zorder=0.6)

    # crisis shading
    ax.axvspan(*crash_span, facecolor="#c6c6c6", edgecolor="none", zorder=0.3)

    # series
    t = [p[0] for p in series[i]]
    v = [p[1] for p in series[i]]
    ax.plot(t, v, color=colors[i], lw=widths[i], zorder=2, solid_joinstyle="miter")

    # horizontal reference levels
    for lv in thick_levels[i]:
        ax.axhline(lv, color=(0.2, 0.2, 0.94), alpha=0.62, lw=4.3, zorder=3)
    for lv in thin_levels[i]:
        ax.axhline(lv, color="#000080", lw=0.9, zorder=3.5)

    # vertical event lines
    ymax = 1 + 10 / panel_h if i == 0 else 1
    for ev in dotted_events:
        ax.axvline(ev, ymax=ymax, color="#2222d4", lw=1.1, ls=(0, (1.8, 3.6)), zorder=4, clip_on=False)
    for ev in dashed_events:
        ax.axvline(ev, ymax=ymax, color="#2222d4", lw=1.1, ls=(0, (4.5, 2.2)), zorder=4, clip_on=False)

    # spines
    for sp in ax.spines.values():
        sp.set_color("#b4b4b4")
        sp.set_linewidth(0.9)

    # y axis on the right
    ax.yaxis.tick_right()
    ax.tick_params(axis="y", which="major", length=3, width=0.8, color="#9a9a9a",
                   labelsize=9.5, labelcolor="#222222", pad=9.5)
    ax.tick_params(axis="y", which="minor", length=1.6, width=0.6, color="#b0b0b0", right=True, left=False)
    for lbl in ax.get_yticklabels():
        lbl.set_horizontalalignment("center")

    # x axis labels
    ax.tick_params(axis="x", which="both", length=0, bottom=False, top=False,
                   labelbottom=(i == 2), labeltop=(i == 0),
                   labelsize=11, labelcolor="#1a1a1a")
    if i == 0:
        ax.tick_params(axis="x", pad=2)
    if i == 2:
        ax.tick_params(axis="x", pad=3.5)
    for lbls in (ax.xaxis.get_majorticklabels(), [tk.label2 for tk in ax.xaxis.get_major_ticks()]):
        for lbl, bold in zip(lbls, tick_bold):
            lbl.set_family(xlabel_font)
            lbl.set_fontweight("bold" if bold else "normal")

    # legend-like title
    ax.plot([0], [1], marker="_", ms=7, mew=2.6, color=colors[i], clip_on=False,
            transform=ax.transAxes + mtransforms.ScaledTranslation(16 / 100, -11 / 100, fig.dpi_scale_trans),
            zorder=6)
    ax.annotate(f"{series_names[i]} {last_values[i]:.2f}", xy=(0, 1), xycoords="axes fraction",
                xytext=(17, -7.9), textcoords="offset points", ha="left", va="center",
                fontsize=10.5, color="#111111", zorder=6, family="DejaVu Sans")

    # last value tag
    ax.annotate(f"{last_values[i]:.2f}", xy=(1, last_values[i]), xycoords=("axes fraction", "data"),
                xytext=(8.5, 0), textcoords="offset points", ha="left", va="center",
                fontsize=10, fontweight="bold", color="black", annotation_clip=False, zorder=10,
                bbox=dict(boxstyle=tag_box, facecolor="white", edgecolor=box_edges[i], lw=1.1))

fig.text(-16 / W, 1 - 1063 / H, "Market breadth", ha="left", va="top", fontsize=13.5,
         family=["Liberation Sans", "DejaVu Sans"], color="#111111")

fig.savefig("out.png", dpi=100, facecolor=fig.get_facecolor())
